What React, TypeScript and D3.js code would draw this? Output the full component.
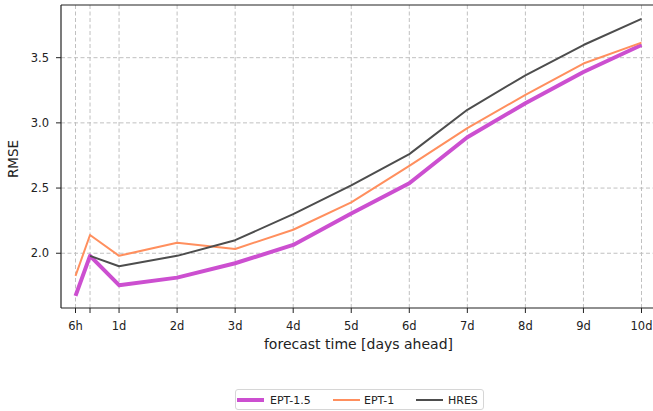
import React from "react";
import * as d3 from "d3";

const leadDays = [0.25, 0.5, 1, 2, 3, 4, 5, 6, 7, 8, 9, 10];
const ept15 = [1.673, 1.98, 1.755, 1.813, 1.923, 2.064, 2.305, 2.537, 2.89, 3.15, 3.39, 3.597];
const ept1 = [1.826, 2.14, 1.98, 2.08, 2.033, 2.18, 2.39, 2.67, 2.96, 3.215, 3.455, 3.615];
const hresDays = [0.5, 1, 2, 3, 4, 5, 6, 7, 8, 9, 10];
const hres = [1.98, 1.90, 1.98, 2.10, 2.30, 2.52, 2.76, 3.10, 3.365, 3.597, 3.797];
const xTickValues = [0.25, 0.5, 1, 2, 3, 4, 5, 6, 7, 8, 9, 10];
const xTickLabels = ["6h", "", "1d", "2d", "3d", "4d", "5d", "6d", "7d", "8d", "9d", "10d"];
const yTicks = [2.0, 2.5, 3.0, 3.5];

const W = 653;
const H = 411;
const L = 61, R = 656, T = 5, B = 308;

export default function App() {
  const x = d3.scaleLinear().domain([0, 10.25]).range([L, R]);
  const y = d3.scaleLinear().domain([1.58, 3.904]).range([B, T]);
  const line = d3.line<[number, number]>().x((d) => x(d[0])).y((d) => y(d[1]));
  const series = [
    { name: "EPT-1.5", xs: leadDays, ys: ept15, color: "#cc4fd0", w: 4 },
    { name: "EPT-1", xs: leadDays, ys: ept1, color: "#ff8f5e", w: 2 },
    { name: "HRES", xs: hresDays, ys: hres, color: "#4d4d4d", w: 2 },
  ];
  const font = "DejaVu Sans, sans-serif";
  const legendItems = [
    { s: series[0], lx: 237, tx: 270 },
    { s: series[1], lx: 333, tx: 364 },
    { s: series[2], lx: 416, tx: 448 },
  ];
  return (
    <svg width={W} height={H} style={{ position: "absolute", left: 0, top: 0 }} fontFamily={font}>
      <rect x={0} y={0} width={W} height={H} fill="#fff" />
      <defs>
        <clipPath id="plot">
          <rect x={L} y={T} width={R - L} height={B - T} />
        </clipPath>
      </defs>
      {xTickValues.map((v, i) => (
        <line key={"gx" + i} x1={x(v)} x2={x(v)} y1={T} y2={B} stroke="#c0c0c0" strokeWidth={1} strokeDasharray="4,2.5" />
      ))}
      {yTicks.map((v, i) => (
        <line key={"gy" + i} x1={L} x2={R} y1={y(v)} y2={y(v)} stroke="#c0c0c0" strokeWidth={1} strokeDasharray="4,2.5" />
      ))}
      <g clipPath="url(#plot)">
        {series.map((s) => (
          <path
            key={s.name}
            d={line(s.xs.map((xv, i) => [xv, s.ys[i]] as [number, number])) || ""}
            fill="none"
            stroke={s.color}
            strokeWidth={s.w}
            strokeLinejoin="round"
            strokeLinecap="butt"
          />
        ))}
      </g>
      <line x1={L} x2={L} y1={T} y2={B} stroke="#222" strokeWidth={1.2} />
      <line x1={L} x2={W} y1={B} y2={B} stroke="#222" strokeWidth={1.2} />
      <line x1={L} x2={W} y1={T} y2={T} stroke="#222" strokeWidth={1.2} />
      {xTickValues.map((v, i) => (
        <g key={"xt" + i}>
          <line x1={x(v)} x2={x(v)} y1={B} y2={B + 5} stroke="#222" strokeWidth={1} />
          <text x={x(v)} y={330} textAnchor="middle" fontSize={11.5} fill="#222">
            {xTickLabels[i]}
          </text>
        </g>
      ))}
      {yTicks.map((v, i) => (
        <g key={"yt" + i}>
          <line x1={L - 5} x2={L} y1={y(v)} y2={y(v)} stroke="#222" strokeWidth={1} />
          <text x={L - 12} y={y(v) + 4} textAnchor="end" fontSize={11.5} fill="#222">
            {v.toFixed(1)}
          </text>
        </g>
      ))}
      <text x={358.5} y={349} textAnchor="middle" fontSize={14} fill="#222">
        forecast time [days ahead]
      </text>
      <text transform={`translate(18, 159) rotate(-90)`} textAnchor="middle" fontSize={13.5} fill="#222">
        RMSE
      </text>
      <rect x={235.5} y={389.5} width={248} height={20} rx={2.5} fill="#fff" stroke="#d6d6d6" strokeWidth={1} />
      {legendItems.map(({ s, lx, tx }) => (
        <g key={"lg" + s.name}>
          <line x1={lx} x2={lx + 27} y1={400} y2={400} stroke={s.color} strokeWidth={s.w} />
          <text x={tx} y={404} fontSize={11} fill="#222">
            {s.name}
          </text>
        </g>
      ))}
    </svg>
  );
}
